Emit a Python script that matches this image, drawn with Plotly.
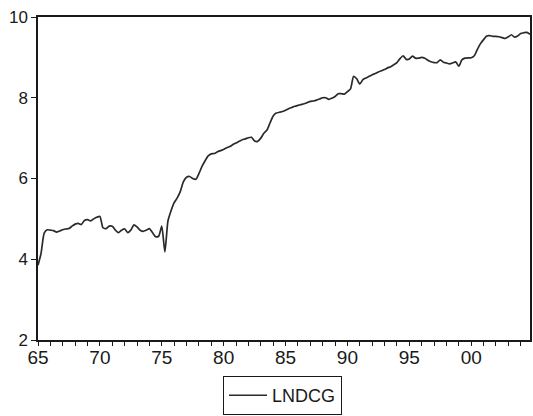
import plotly.graph_objects as go

# Quarterly observations, 1965Q1 .. 2004Q4
start_year = 1965
series_name = "LNDCG"
lndcg = [
    3.85, 4.15, 4.65, 4.73, 4.72, 4.71, 4.67, 4.70, 4.73, 4.75,
    4.76, 4.82, 4.87, 4.89, 4.86, 4.96, 4.98, 4.95, 5.00, 5.04,
    5.06, 4.78, 4.76, 4.82, 4.82, 4.72, 4.66, 4.72, 4.75, 4.66,
    4.72, 4.85, 4.80, 4.72, 4.69, 4.72, 4.76, 4.66, 4.56, 4.57,
    4.82, 4.18, 4.95, 5.20, 5.40, 5.52, 5.68, 5.92, 6.03, 6.05,
    6.00, 5.98, 6.12, 6.30, 6.44, 6.56, 6.61, 6.62, 6.66, 6.69,
    6.72, 6.76, 6.79, 6.84, 6.88, 6.92, 6.96, 6.98, 7.01, 7.02,
    6.93, 6.92, 7.00, 7.12, 7.20, 7.38, 7.55, 7.62, 7.64, 7.66,
    7.69, 7.73, 7.76, 7.79, 7.81, 7.83, 7.85, 7.88, 7.91, 7.92,
    7.94, 7.97, 8.00, 8.00, 7.96, 7.99, 8.03, 8.10, 8.10, 8.09,
    8.15, 8.22, 8.53, 8.47, 8.34, 8.45, 8.49, 8.53, 8.57, 8.60,
    8.64, 8.67, 8.70, 8.74, 8.77, 8.82, 8.87, 8.97, 9.04, 8.95,
    8.96, 9.03, 8.98, 8.98, 9.00, 8.98, 8.93, 8.89, 8.87, 8.87,
    8.94, 8.88, 8.86, 8.84, 8.86, 8.89, 8.78, 8.94, 8.98, 8.99,
    8.99, 9.04, 9.20, 9.34, 9.44, 9.53, 9.54, 9.52, 9.52, 9.51,
    9.49, 9.47, 9.51, 9.56, 9.50, 9.53, 9.59, 9.61, 9.62, 9.57,
]
major_years = [1965, 1970, 1975, 1980, 1985, 1990, 1995, 2000]
major_labels = [str(y)[-2:] for y in major_years]
minor_years = list(range(1965, 2005))
y_ticks = [2, 4, 6, 8, 10]

t = [start_year + i / 4 for i in range(len(lndcg))]

ink = "#1a1a1a"
font_family = "Liberation Sans, Arial, Helvetica, sans-serif"

fig = go.Figure()
fig.add_trace(go.Scatter(
    x=t, y=lndcg, mode="lines", name=series_name,
    line=dict(color="#2a2a2a", width=1.7, shape="spline", smoothing=0.6),
))

fig.update_layout(
    width=533, height=416,
    margin=dict(l=38, r=3, t=17, b=76, autoexpand=False),
    paper_bgcolor="white", plot_bgcolor="white",
    font=dict(family=font_family, color=ink, size=15),
    showlegend=True,
    legend=dict(
        orientation="h",
        xref="paper", x=0.497, xanchor="center",
        yref="container", y=0.096, yanchor="top",
        bordercolor=ink, borderwidth=1, bgcolor="white",
        font=dict(size=18, color=ink), itemwidth=38,
        tracegroupgap=0,
    ),
)

fig.update_xaxes(
    range=[t[0], t[-1]],
    tickmode="array", tickvals=major_years, ticktext=major_labels,
    ticks="outside", ticklen=4, tickwidth=1.2, tickcolor=ink,
    minor=dict(tickmode="array", tickvals=minor_years, ticks="outside",
               ticklen=4, tickwidth=1.2, tickcolor=ink, showgrid=False),
    showline=True, linecolor=ink, linewidth=1.5, mirror=True,
    showgrid=False, zeroline=False,
    tickfont=dict(size=19, color=ink),
    ticklabelstandoff=-5,
)
fig.update_yaxes(
    range=[2, 10],
    tickmode="array", tickvals=y_ticks,
    ticks="outside", ticklen=5, tickwidth=1.2, tickcolor=ink,
    showline=True, linecolor=ink, linewidth=1.5, mirror=True,
    showgrid=False, zeroline=False,
    tickfont=dict(size=17, color=ink),
)

fig.write_html("out.html")
